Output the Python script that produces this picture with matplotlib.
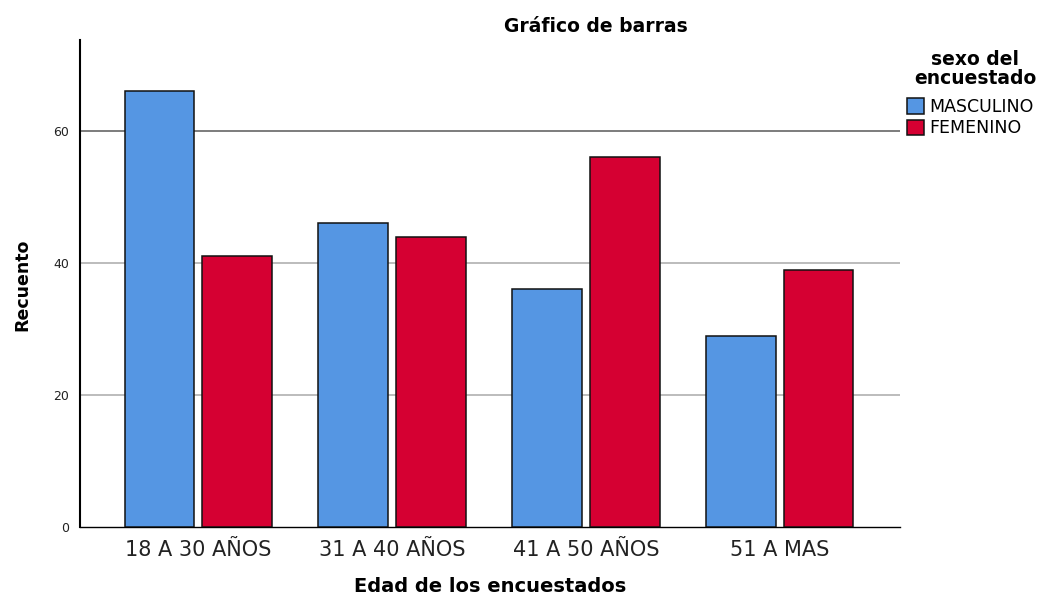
import matplotlib.pyplot as plt
import numpy as np

categorias = ["18 A 30 AÑOS", "31 A 40 AÑOS", "41 A 50 AÑOS", "51 A MAS"]
masculino = [66, 46, 36, 29]
femenino = [41, 44, 56, 39]
series = ["MASCULINO", "FEMENINO"]
yticks = [0, 20, 40, 60]

azul = "#5596e3"
rojo = "#d50032"

fig = plt.figure(figsize=(10.42, 5.95), dpi=100)
ax = fig.add_axes([80/1042, 68/595, 820/1042, 487/595])

x = np.arange(len(categorias))
w = 0.36
ax.bar(x - 0.2, masculino, w, color=azul, edgecolor="#111111", linewidth=1.1, label=series[0], zorder=3)
ax.bar(x + 0.2, femenino, w, color=rojo, edgecolor="#111111", linewidth=1.1, label=series[1], zorder=3)

# grid lines, the top one is darker in the original
for v in yticks[1:]:
    col = "#666666" if v == 60 else "#b0b0b0"
    ax.axhline(v, color=col, linewidth=1.2, zorder=1)

ax.set_xlim(-0.61, 3.62)
ax.set_ylim(0, 73.8)
ax.set_xticks(x)
ax.set_xticklabels(categorias, fontsize=15, color="#222222")
ax.set_yticks(yticks)
ax.set_yticklabels([str(v) for v in yticks], fontsize=9, color="#222222")
ax.tick_params(axis="both", length=0)
ax.tick_params(axis="x", pad=9)
ax.tick_params(axis="y", pad=8)

ax.spines["top"].set_visible(False)
ax.spines["right"].set_visible(False)
ax.spines["left"].set_linewidth(1.5)
ax.spines["bottom"].set_linewidth(1.0)

fig.text(596/1042, 1 - 27/595, "Gráfico de barras", ha="center", va="center", fontsize=13.5, fontweight="bold")
fig.text(490/1042, 1 - 586/595, "Edad de los encuestados", ha="center", va="center", fontsize=14, fontweight="bold")
fig.text(22/1042, 1 - 285/595, "Recuento", ha="center", va="center", rotation=90, fontsize=12.5, fontweight="bold")

# legend title drawn separately so it sits centered with a gap above the entries
fig.text(975/1042, 1 - 50/595, "sexo del\nencuestado", ha="center", va="top", fontsize=13.5,
         fontweight="bold", linespacing=1.0)
leg = ax.legend(loc="upper left",
                bbox_to_anchor=(907/1042, 1 - 98/595), bbox_transform=fig.transFigure,
                frameon=False, fontsize=12.5, handlelength=1.0, handleheight=1.0,
                handletextpad=0.3, labelspacing=0.2, borderpad=0, borderaxespad=0)

fig.savefig("out.png", dpi=100)
